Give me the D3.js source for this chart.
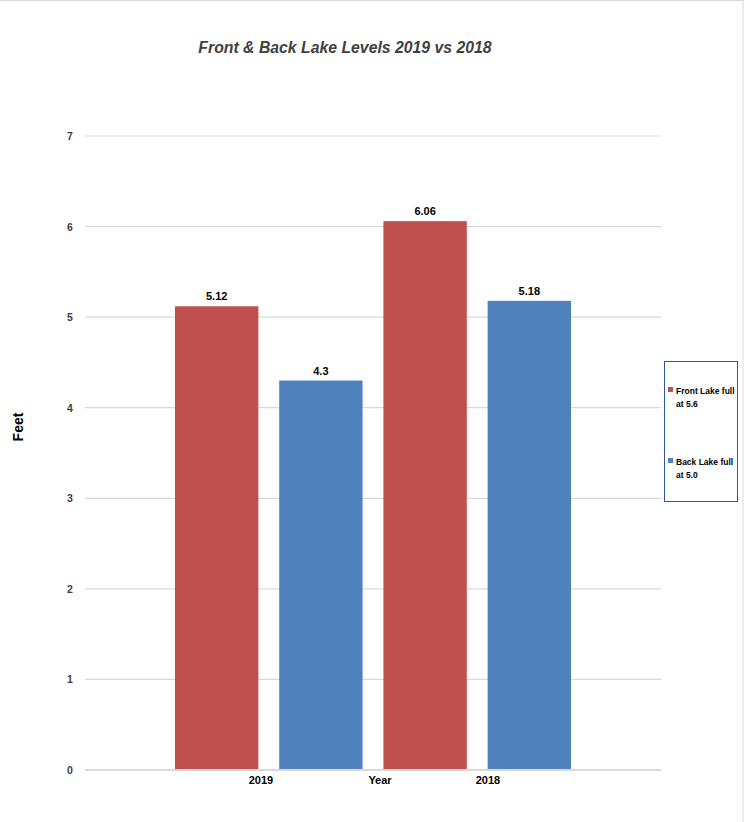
<!DOCTYPE html>
<html><head><meta charset="utf-8">
<script src="https://cdn.jsdelivr.net/npm/d3@7"></script>
<style>body{margin:0;background:#fff}svg{display:block}text{font-family:"Liberation Sans",Arial,sans-serif}</style>
</head><body><div id="chart"></div>
<script>
const years = ["2019", "2018"];
const seriesNames = ["Front Lake full at 5.6", "Back Lake full at 5.0"];
const frontValues = [5.12, 6.06];
const backValues = [4.3, 5.18];
const yTicks = [0, 1, 2, 3, 4, 5, 6, 7];
const legendLines = [["Front Lake full", "at 5.6"], ["Back Lake full", "at 5.0"]];
const colors = ["#C0504D", "#4F81BD"];

const W = 748, H = 822;
const svg = d3.select("#chart").append("svg").attr("width", W).attr("height", H);

// outer border (top/right visible)
svg.append("line").attr("x1", 0).attr("x2", 743).attr("y1", 0.5).attr("y2", 0.5).attr("stroke", "#D9D9D9");
svg.append("line").attr("x1", 743).attr("x2", 743).attr("y1", 0).attr("y2", H).attr("stroke", "#D9D9D9");

const y = d3.scaleLinear().domain([0, 7]).range([770, 136]);
const bars = [];
years.forEach((yr, i) => {
  bars.push({key: yr + "-0", year: yr, s: 0, v: frontValues[i]});
  bars.push({key: yr + "-1", year: yr, s: 1, v: backValues[i]});
});
const x = d3.scaleBand().domain(bars.map(d => d.key)).range([175, 571]).paddingInner(0.2).paddingOuter(0);

// title
svg.append("text").attr("x", 345).attr("y", 53).attr("text-anchor", "middle")
  .attr("font-size", 15.8).attr("font-weight", "bold").attr("font-style", "italic").attr("fill", "#404040")
  .text("Front & Back Lake Levels 2019 vs 2018");

// gridlines
svg.append("g").selectAll("line").data(yTicks.filter(t => t > 0)).join("line")
  .attr("x1", 85).attr("x2", 661).attr("y1", d => y(d)).attr("y2", d => y(d))
  .attr("stroke", "#D9D9D9").attr("stroke-width", 1.2);

// y tick labels
svg.append("g").selectAll("text").data(yTicks).join("text")
  .attr("x", 70).attr("y", d => y(d) + 4).attr("text-anchor", "middle")
  .attr("font-size", 10.5).attr("font-weight", "bold").attr("fill", "#404040").text(d => d);

// bars
svg.append("g").selectAll("rect").data(bars).join("rect")
  .attr("x", d => x(d.key)).attr("width", x.bandwidth())
  .attr("y", d => y(d.v)).attr("height", d => y(0) - y(d.v))
  .attr("fill", d => colors[d.s]);

// zero axis line
svg.append("line").attr("x1", 85).attr("x2", 661).attr("y1", y(0)).attr("y2", y(0))
  .attr("stroke", "#D9D9D9").attr("stroke-width", 2);

// value labels
svg.append("g").selectAll("text").data(bars).join("text")
  .attr("x", d => x(d.key) + x.bandwidth() / 2).attr("y", d => y(d.v) - 6).attr("text-anchor", "middle")
  .attr("font-size", 11).attr("font-weight", "bold").attr("fill", "#000").text(d => d.v);

// x tick labels
const xl = d3.scalePoint().domain(years).range([261, 488]);
svg.append("g").selectAll("text").data(years).join("text")
  .attr("x", d => xl(d)).attr("y", 784).attr("text-anchor", "middle")
  .attr("font-size", 11).attr("font-weight", "bold").attr("fill", "#000").text(d => d);
svg.append("text").attr("x", 380).attr("y", 784).attr("text-anchor", "middle")
  .attr("font-size", 11).attr("font-weight", "bold").attr("fill", "#000").text("Year");

// y title
svg.append("text").attr("transform", "translate(23,427) rotate(-90)").attr("text-anchor", "middle")
  .attr("font-size", 14).attr("font-weight", "bold").attr("fill", "#000").text("Feet");

// legend
svg.append("rect").attr("x", 664.5).attr("y", 361.5).attr("width", 73).attr("height", 140)
  .attr("fill", "#fff").attr("stroke", "#2F5597").attr("stroke-width", 1);
const lg = svg.append("g").selectAll("g").data(seriesNames).join("g")
  .attr("transform", (d, i) => `translate(668,${387 + i * 71})`);
lg.append("rect").attr("width", 5).attr("height", 5).attr("fill", (d, i) => colors[i]);
lg.each(function(d, i) {
  const t = d3.select(this).append("text").attr("font-size", 8.5).attr("font-weight", "bold").attr("fill", "#000");
  legendLines[i].forEach((ln, j) => t.append("tspan").attr("x", 8).attr("y", 7 + j * 13).text(ln));
});
</script></body></html>
